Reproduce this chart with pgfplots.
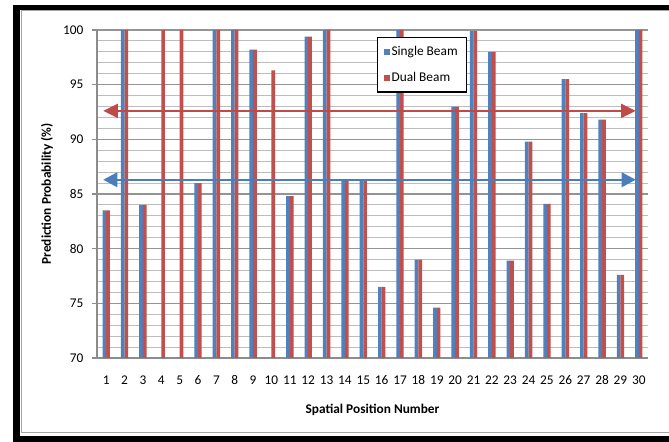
\documentclass[border=0pt]{standalone}
\usepackage{fontspec}
\setmainfont{Carlito}
\usepackage{pgfplots}
\usepackage{pgfplotstable}
\pgfplotsset{compat=1.18}
\usetikzlibrary{arrows.meta}
\definecolor{sbblue}{HTML}{4F81BD}
\definecolor{dbred}{HTML}{C0504D}
\definecolor{arblue}{HTML}{4A7EBB}
\definecolor{arred}{HTML}{BE4B48}
\pgfplotstableread{
pos single dual
1 83.5 83.5
2 100 100
3 84 84
4 0 100
5 0 100
6 86 86
7 100 100
8 100 100
9 98.2 98.2
10 0 96.3
11 84.8 84.8
12 99.4 99.4
13 100 100
14 86.3 86.3
15 86.2 86.2
16 76.5 76.5
17 100 100
18 79 79
19 74.6 74.6
20 93 93
21 99.9 99.9
22 98 98
23 78.9 78.9
24 89.8 89.8
25 84.1 84.1
26 95.5 95.5
27 92.4 92.4
28 91.8 91.8
29 77.6 77.6
30 100 100
}\data
\begin{document}
\begin{tikzpicture}
\useasboundingbox (0,0) rectangle (501.75pt,331.5pt);
\fill[white] (0,0) rectangle (501.75pt,331.5pt);
% frame
\fill[black] (9.75pt,0) rectangle (15pt,327.75pt);
\fill[black] (9.75pt,324pt) rectangle (501.75pt,327.75pt);
\fill[black] (9.75pt,0) rectangle (501.75pt,4.5pt);
\draw[black!35, line width=0.75pt] (501.75pt,6.75pt) -- (15.75pt,6.75pt) -- (15.75pt,323.25pt) -- (501.75pt,323.25pt);
\begin{axis}[
  at={(72.75pt,63pt)}, anchor=south west,
  scale only axis, width=413.25pt, height=246pt,
  xmin=0.5, xmax=30.5, ymin=70, ymax=100,
  xtick={1,...,30}, ytick={70,75,...,100},
  minor y tick num=4,
  ymajorgrids, yminorgrids,
  major grid style={black!42, line width=0.8pt},
  minor grid style={black!26, line width=0.8pt},
  axis x line=bottom, axis y line=left,
  axis line style={-, black!45, line width=0.8pt},
  x tick style={draw=none},
  y tick style={black!45, line width=0.8pt},
  tick align=outside,
  major tick length=3.75pt,
  minor tick length=0pt,
  /pgf/number format/assume math mode=true,
  ticklabel style={font=\fontsize{10}{12}\selectfont},
  xticklabel style={anchor=center, yshift=-13pt},
  yticklabel style={xshift=-3pt},
  ylabel={Prediction Probability (\%)},
  xlabel={Spatial Position Number},
  ylabel style={font=\bfseries\fontsize{10}{12}\selectfont, at={(axis description cs:-0.0907,0.5)}, anchor=center},
  xlabel style={font=\bfseries\fontsize{10}{12}\selectfont, at={(axis description cs:0.5,-0.1585)}, anchor=center},
  legend style={at={(0.508,0.979)}, anchor=north west, draw=black, line width=1pt,
    font=\fontsize{10}{12}\selectfont, row sep=8pt, inner xsep=5pt, inner ysep=5pt,
    nodes={inner sep=1.5pt}},
  legend cell align=left,
  legend image code/.code={\fill[#1] (0pt,-2.2pt) rectangle (4pt,2.2pt);},
]
\addplot[ybar, bar width=0.2, bar shift=-0.1, fill=sbblue, draw=none] table[x=pos,y=single]{\data};
\addlegendentry{Single Beam}
\addplot[ybar, bar width=0.2, bar shift=0.1, fill=dbred, draw=none] table[x=pos,y=dual]{\data};
\addlegendentry{Dual Beam}
\addplot[forget plot, arred, line width=1.5pt, {Triangle[length=11pt,width=10.5pt]}-{Triangle[length=11pt,width=10.5pt]}] coordinates {(0.843,92.6) (29.83,92.6)};
\addplot[forget plot, arblue, line width=1.2pt, {Triangle[length=10.5pt,width=11pt]}-{Triangle[length=10.5pt,width=11pt]}] coordinates {(0.843,86.3) (29.83,86.3)};
\end{axis}
\end{tikzpicture}
\end{document}
